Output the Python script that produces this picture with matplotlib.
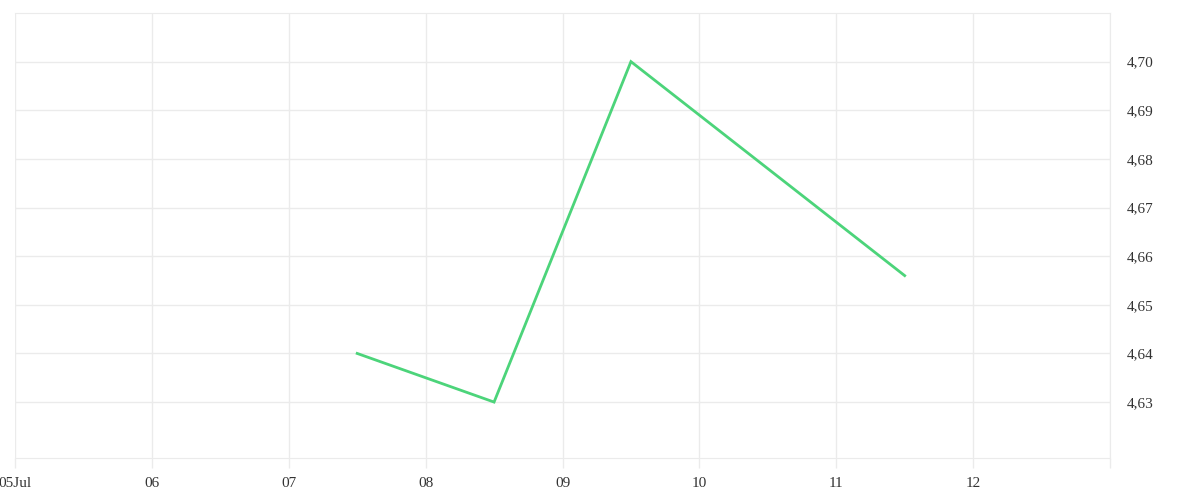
import matplotlib.pyplot as plt
import matplotlib.dates as mdates
import numpy as np
import datetime as dt

# data (points sit at noon of each day)
dates = [dt.datetime(2024, 7, 7, 12), dt.datetime(2024, 7, 8, 12),
         dt.datetime(2024, 7, 9, 12), dt.datetime(2024, 7, 11, 12)]
values = [4.640, 4.630, 4.700, 4.656]
yticks = [4.63, 4.64, 4.65, 4.66, 4.67, 4.68, 4.69, 4.70]
xlabels = ['05Jul', '06', '07', '08', '09', '10', '11', '12', '']

fig = plt.figure(figsize=(12, 5), dpi=100)
ax = fig.add_axes([15 / 1200, 1 - 458 / 500, (1110 - 15) / 1200, (458 - 13) / 500])

ax.plot(dates, values, color='#4cd47a', lw=2, solid_joinstyle='miter')

ax.set_xlim(dt.datetime(2024, 7, 5), dt.datetime(2024, 7, 13))
ax.set_ylim(4.6185, 4.71)

ax.set_yticks(yticks)
ax.set_yticklabels([('%.2f' % v).replace('.', ',') for v in yticks])
ax.yaxis.tick_right()

xt = [dt.datetime(2024, 7, d) for d in range(5, 14)]
ax.set_xticks(xt)
ax.set_xticklabels(xlabels)

ax.grid(True, color='#ebebeb', lw=1)
ax.set_axisbelow(True)
ax.spines['left'].set_visible(False)
for s in ['top', 'right', 'bottom']:
    ax.spines[s].set_color('#ebebeb')
ax.tick_params(axis='x', length=7.2, width=1, color='#ebebeb', pad=6.5, labelsize=11, labelcolor='#333333')
ax.tick_params(axis='y', length=0, pad=12, labelsize=11, labelcolor='#333333')
for lab in ax.get_xticklabels() + ax.get_yticklabels():
    lab.set_family('Liberation Serif')

fig.savefig('out.png', dpi=100)
